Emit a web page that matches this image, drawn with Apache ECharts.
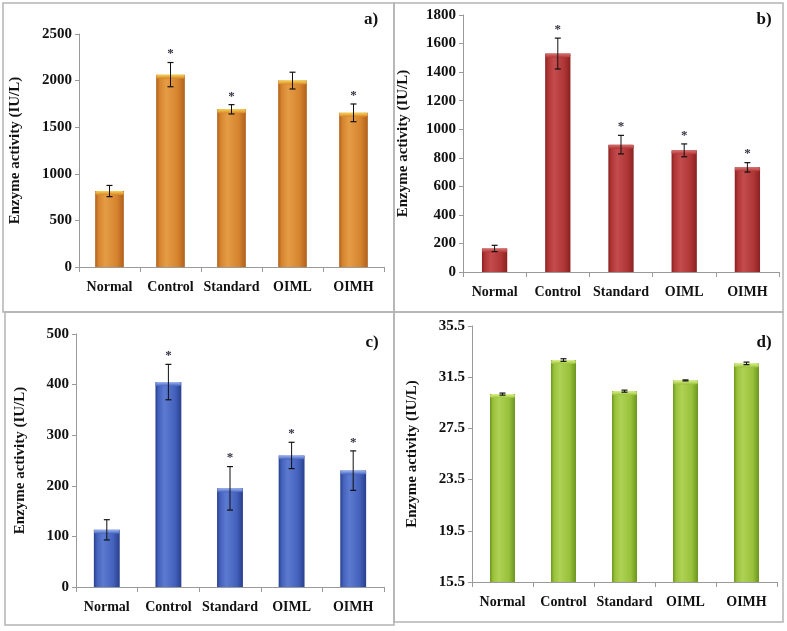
<!DOCTYPE html>
<html>
<head>
<meta charset="utf-8">
<script src="https://cdn.jsdelivr.net/npm/echarts@6/dist/echarts.min.js"></script>
<style>html,body{margin:0;padding:0;background:#fff;}#c{width:787px;height:631px;}</style>
</head>
<body>
<div id="c"></div>
<script>
const categories = ['Normal', 'Control', 'Standard', 'OIML', 'OIMH'];

const aValues = [815, 2064, 1692, 2000, 1654];
const aErrors = [60, 130, 50, 90, 95];
const aStars = [0, 1, 1, 0, 1];
const aTicks = [0, 500, 1000, 1500, 2000, 2500];

const bValues = [165, 1530, 892, 852, 733];
const bErrors = [22, 108, 65, 45, 33];
const bStars = [0, 1, 1, 1, 1];
const bTicks = [0, 200, 400, 600, 800, 1000, 1200, 1400, 1600, 1800];

const cValues = [113, 405, 195, 260, 230];
const cErrors = [20, 35, 43, 26, 39];
const cStars = [0, 1, 1, 1, 1];
const cTicks = [0, 100, 200, 300, 400, 500];

const dValues = [30.18, 32.84, 30.41, 31.25, 32.58];
const dErrors = [0.08, 0.1, 0.08, 0.04, 0.1];
const dStars = [0, 0, 0, 0, 0];
const dTicks = [15.5, 19.5, 23.5, 27.5, 31.5, 35.5];

const panelLabels = ['a)', 'b)', 'c)', 'd)'];
const yTitle = 'Enzyme activity (IU/L)';

const FONT = '"Liberation Serif", "Times New Roman", serif';

const panels = [
  { values: aValues, errors: aErrors, stars: aStars, ticks: aTicks,
    grid: { left: 79, top: 34, width: 305, height: 233 }, nameGap: 56, barRatio: 0.47,
    colors: { edge: '#B0601C', light: '#E49C45', main: '#D6842E', cap: '#F7D34C' } },
  { values: bValues, errors: bErrors, stars: bStars, ticks: bTicks,
    grid: { left: 463, top: 15, width: 316, height: 257 }, nameGap: 52, barRatio: 0.4,
    colors: { edge: '#8A2020', light: '#C44C4C', main: '#B03636', cap: '#D87070' } },
  { values: cValues, errors: cErrors, stars: cStars, ticks: cTicks,
    grid: { left: 76, top: 334, width: 308, height: 253 }, nameGap: 48, barRatio: 0.42,
    colors: { edge: '#283F8C', light: '#5C7AD0', main: '#4462BC', cap: '#9CB4F2' } },
  { values: dValues, errors: dErrors, stars: dStars, ticks: dTicks,
    grid: { left: 472, top: 326, width: 305, height: 256 }, nameGap: 52, barRatio: 0.41,
    colors: { edge: '#6C961F', light: '#AED255', main: '#99C13B', cap: '#DDF28A' } }
];

const grid = [], xAxis = [], yAxis = [], series = [];

panels.forEach((p, i) => {
  grid.push(Object.assign({ containLabel: false }, p.grid));
  xAxis.push({
    type: 'category', gridIndex: i, data: categories,
    axisLine: { lineStyle: { color: '#9a9a9a', width: 1 } },
    axisTick: { show: true, alignWithLabel: false, length: 5, lineStyle: { color: '#9a9a9a' } },
    axisLabel: { color: '#111', fontFamily: FONT, fontWeight: 'bold', fontSize: 14, margin: 13, interval: 0 }
  });
  const tmin = p.ticks[0], tmax = p.ticks[p.ticks.length - 1];
  yAxis.push({
    type: 'value', gridIndex: i, min: tmin, max: tmax,
    interval: p.ticks[1] - p.ticks[0],
    name: yTitle, nameLocation: 'middle', nameGap: p.nameGap,
    nameTextStyle: { color: '#111', fontFamily: FONT, fontWeight: 'bold', fontSize: 15 },
    axisLine: { show: true, lineStyle: { color: '#9a9a9a', width: 1 } },
    axisTick: { show: true, length: 4, lineStyle: { color: '#9a9a9a' }, customValues: p.ticks },
    splitLine: { show: false },
    axisLabel: {
      color: '#111', fontFamily: FONT, fontWeight: 'bold', fontSize: 15, margin: 7,
      customValues: p.ticks,
      formatter: v => (i === 3 ? v.toFixed(1) : String(v))
    }
  });
  const c = p.colors;
  series.push({
    type: 'bar', xAxisIndex: i, yAxisIndex: i,
    data: p.values,
    barWidth: (p.barRatio * 100) + '%',
    itemStyle: {
      color: {
        type: 'linear', x: 0, y: 0, x2: 1, y2: 0,
        colorStops: [
          { offset: 0, color: c.edge },
          { offset: 0.12, color: c.main },
          { offset: 0.35, color: c.light },
          { offset: 0.75, color: c.main },
          { offset: 1, color: c.edge }
        ]
      }
    },
    silent: true, animation: false
  });
  series.push({
    type: 'custom', xAxisIndex: i, yAxisIndex: i,
    data: p.values.map((v, k) => [k, v, p.errors[k], p.stars[k]]),
    encode: { x: 0, y: 1 },
    z: 5, silent: true, animation: false,
    renderItem: (params, api) => {
      const x = api.value(0), v = api.value(1), e = api.value(2), s = api.value(3);
      const mid = api.coord([x, v]);
      const top = api.coord([x, v + e]);
      const bot = api.coord([x, v - e]);
      const bw = api.size([1, 0])[0] * p.barRatio;
      const cap = 3;
      const children = [
        { type: 'rect', shape: { x: mid[0] - bw / 2, y: mid[1], width: bw, height: 4, r: 2 },
          style: { fill: { type: 'linear', x: 0, y: 0, x2: 0, y2: 1,
            colorStops: [{ offset: 0, color: c.cap }, { offset: 1, color: c.main }] } } },
        { type: 'line', shape: { x1: top[0], y1: top[1], x2: bot[0], y2: bot[1] },
          style: { stroke: '#111', lineWidth: 1 } },
        { type: 'line', shape: { x1: top[0] - cap, y1: top[1], x2: top[0] + cap, y2: top[1] },
          style: { stroke: '#111', lineWidth: 1.2 } },
        { type: 'line', shape: { x1: bot[0] - cap, y1: bot[1], x2: bot[0] + cap, y2: bot[1] },
          style: { stroke: '#111', lineWidth: 1.2 } }
      ];
      if (s) {
        children.push({ type: 'text', style: { text: '*', x: top[0], y: top[1] - 2,
          align: 'center', verticalAlign: 'bottom', fill: '#333344',
          font: 'bold 13px ' + FONT } });
      }
      return { type: 'group', children };
    }
  });
});

const borders = [
  [3, 3, 391, 309], [394, 3, 389, 309], [5, 312, 389, 313], [394, 312, 389, 310]
];
const labelPos = [[371, 20], [764, 20], [372, 343], [764, 343]];
const graphic = [];
borders.forEach(b => graphic.push({
  type: 'rect', shape: { x: b[0], y: b[1], width: b[2], height: b[3] },
  style: { fill: 'none', stroke: '#b4b4b4', lineWidth: 1.5 }, silent: true, z: 0
}));
panelLabels.forEach((t, k) => graphic.push({
  type: 'text', x: labelPos[k][0], y: labelPos[k][1],
  style: { text: t, align: 'center', verticalAlign: 'middle', fill: '#111', font: 'bold 17px ' + FONT },
  silent: true
}));

const chart = echarts.init(document.getElementById('c'), null, { renderer: 'canvas' });
chart.setOption({
  backgroundColor: '#ffffff',
  animation: false,
  grid, xAxis, yAxis, series, graphic
});
</script>
</body>
</html>
